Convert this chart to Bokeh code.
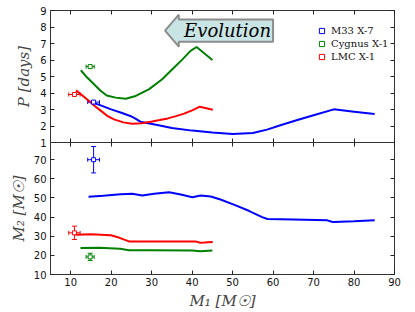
from bokeh.plotting import figure
from bokeh.layouts import column
from bokeh.models import Range1d, LinearAxis, FixedTicker, Legend, LegendItem, Whisker, ColumnDataSource, TeeHead
from bokeh.core.properties import value
from bokeh.embed import file_html
from bokeh.resources import INLINE

# ---------------- data ----------------
# Orbital period P [days] vs M1
m33_p_m1 = [14.2, 17.4, 20.0, 22.5, 24.7, 26.0, 27.2, 31.4, 35.0, 40.0, 45.0, 50.0, 55.0, 58.5, 62.0, 66.0, 70.0, 75.0, 80.0, 85.1]
m33_p = [3.52, 3.25, 3.01, 2.80, 2.61, 2.45, 2.26, 2.06, 1.88, 1.72, 1.60, 1.52, 1.57, 1.78, 2.06, 2.36, 2.65, 3.01, 2.87, 2.73]

cyg_p_m1 = [12.5, 14.0, 15.75, 17.3, 18.9, 21.1, 23.6, 26.05, 29.3, 32.6, 35.1, 37.6, 39.6, 41.1, 45.0]
cyg_p = [5.38, 4.95, 4.53, 4.15, 3.85, 3.72, 3.65, 3.82, 4.22, 4.83, 5.44, 6.04, 6.55, 6.79, 6.00]

lmc_p_m1 = [11.3, 12.9, 14.5, 16.0, 17.4, 19.0, 20.7, 23.0, 25.2, 27.5, 29.8, 32.0, 34.0, 36.0, 38.0, 40.0, 41.9, 43.5, 45.1]
lmc_p = [4.16, 3.85, 3.52, 3.20, 2.93, 2.62, 2.40, 2.22, 2.14, 2.17, 2.26, 2.36, 2.46, 2.60, 2.75, 2.95, 3.17, 3.08, 2.99]

# Companion mass M2 vs M1
m33_m2_m1 = [14.4, 18.0, 22.35, 25.2, 27.7, 30.6, 34.3, 37.2, 40.05, 42.1, 44.6, 47.0, 50.3, 54.0, 57.3, 58.6, 65.0, 73.4, 74.5, 75.0, 80.0, 85.1]
m33_m2 = [50.6, 51.2, 52.0, 52.2, 51.3, 52.2, 53.0, 51.8, 50.4, 51.3, 50.8, 49.2, 46.5, 43.3, 40.0, 39.0, 38.8, 38.3, 37.6, 37.4, 37.8, 38.3]

cyg_m2_m1 = [12.4, 17.0, 22.2, 24.4, 30.0, 40.0, 42.0, 45.0]
cyg_m2 = [23.9, 24.0, 23.5, 22.7, 22.7, 22.5, 22.2, 22.5]

lmc_m2_m1 = [11.2, 15.0, 19.9, 21.9, 24.4, 30.0, 35.0, 40.8, 42.0, 43.0, 45.1]
lmc_m2 = [30.8, 31.0, 30.5, 29.3, 27.3, 27.3, 27.3, 27.3, 26.6, 26.7, 27.0]

# Observed systems (with errors)
names = ["M33 X-7", "Cygnus X-1", "LMC X-1"]
colors = ["#0000ff", "#008000", "#ff0000"]
obs_m1 = [15.65, 14.8, 10.91]
obs_m1_err = [1.45, 1.0, 1.41]
obs_p = [3.45, 5.6, 3.91]
obs_m2 = [70.0, 19.2, 31.79]
obs_m2_err = [6.9, 1.9, 3.48]

x_ticks = [10, 20, 30, 40, 50, 60, 70, 80, 90]
p_ticks = [1, 2, 3, 4, 5, 6, 7, 8, 9]
m2_ticks = [10, 20, 30, 40, 50, 60, 70]

# ---------------- styling helpers ----------------
TICK_FONT = "DejaVu Sans"
LABEL_FONT = "DejaVu Serif"
OVERLAP = 7   # room under the top panel so that its lowest tick label is not clipped


def style_axis(ax, ticks, labels=True):
    ax.ticker = FixedTicker(ticks=ticks)
    ax.axis_line_color = None
    ax.major_tick_in = 4
    ax.major_tick_out = 0
    ax.minor_tick_in = 0
    ax.minor_tick_out = 0
    ax.major_tick_line_color = "#222222"
    ax.major_tick_line_width = 1
    ax.major_label_text_font = TICK_FONT
    ax.major_label_text_color = "#111111"
    if labels:
        ax.major_label_text_font_size = "10px"
        ax.major_label_standoff = 3
    else:
        ax.major_label_overrides = {t: "" for t in ticks}
        ax.major_label_text_font_size = "0px"
        ax.major_label_standoff = 0


def style_fig(p):
    p.grid.visible = False
    p.outline_line_color = "#333333"
    p.outline_line_width = 1
    p.background_fill_color = "white"
    p.frame_align = False


x_range = Range1d(5, 90)

# ---------------- top panel: period ----------------
p1 = figure(frame_width=344, frame_height=132, x_range=x_range, y_range=Range1d(1, 9),
            output_backend="svg", toolbar_location=None,
            min_border_left=50, min_border_right=21, min_border_top=10,
            min_border_bottom=OVERLAP)
style_fig(p1)
p1.border_fill_color = "white"
style_axis(p1.xaxis[0], x_ticks, labels=False)
style_axis(p1.yaxis[0], p_ticks)
p1.yaxis[0].major_label_standoff = 4
p1.yaxis[0].axis_label = "P [days]"
p1.yaxis[0].axis_label_text_font = LABEL_FONT
p1.yaxis[0].axis_label_text_font_style = "italic"
p1.yaxis[0].axis_label_text_font_size = "15px"
p1.yaxis[0].axis_label_standoff = 4
ax_r1 = LinearAxis()
style_axis(ax_r1, p_ticks, labels=False)
p1.add_layout(ax_r1, "right")
ax_t1 = LinearAxis()
style_axis(ax_t1, x_ticks, labels=False)
p1.add_layout(ax_t1, "above")

p1.line(m33_p_m1, m33_p, line_color=colors[0], line_width=2)
p1.line(cyg_p_m1, cyg_p, line_color=colors[1], line_width=2)
p1.line(lmc_p_m1, lmc_p, line_color=colors[2], line_width=2)

# "Evolution" arrow annotation (top-panel data coordinates)
arrow_tip_x, arrow_mid_x, arrow_end_x = 33.3, 36.7, 60.0
arrow_y = 7.78
arrow_head_half, arrow_body_half = 0.97, 0.68
p1.patch([arrow_tip_x, arrow_mid_x, arrow_mid_x, arrow_end_x, arrow_end_x, arrow_mid_x, arrow_mid_x],
         [arrow_y, arrow_y + arrow_head_half, arrow_y + arrow_body_half, arrow_y + arrow_body_half,
          arrow_y - arrow_body_half, arrow_y - arrow_body_half, arrow_y - arrow_head_half],
         fill_color="#c9e4e4", line_color="#8c8c8c", line_width=2)
p1.text(x=[(arrow_mid_x + arrow_end_x) / 2 + 0.4], y=[arrow_y], text=["Evolution"],
        text_font=value(LABEL_FONT), text_font_style="italic", text_font_size="18px",
        text_align="center", text_baseline="middle", text_color="black")

legend_items = []
for i in range(3):
    src = ColumnDataSource(dict(x=[obs_m1[i]], y=[obs_p[i]],
                                lo=[obs_m1[i] - obs_m1_err[i]], hi=[obs_m1[i] + obs_m1_err[i]]))
    p1.add_layout(Whisker(source=src, base="y", lower="lo", upper="hi", dimension="width",
                          line_color=colors[i], line_width=1,
                          lower_head=TeeHead(size=4, line_color=colors[i], line_width=1),
                          upper_head=TeeHead(size=4, line_color=colors[i], line_width=1)))
    r = p1.scatter("x", "y", source=src, marker="square", size=4, fill_color="white",
                   line_color=colors[i], line_width=1)
    legend_items.append(LegendItem(label=names[i], renderers=[r]))

legend = Legend(items=legend_items, location=(265, 79), margin=0, padding=0,
                border_line_color=None, background_fill_alpha=0,
                glyph_width=13, glyph_height=13, label_standoff=3, spacing=0, label_height=13,
                label_text_font=LABEL_FONT, label_text_font_size="10px", label_text_color="#111111")
p1.add_layout(legend)

# ---------------- bottom panel: companion mass ----------------
p2 = figure(frame_width=344, frame_height=132, x_range=x_range, y_range=Range1d(10, 79),
            output_backend="svg", toolbar_location=None,
            min_border_left=50, min_border_right=21, min_border_top=0, min_border_bottom=38)
style_fig(p2)
p2.border_fill_alpha = 0
p2.margin = (-OVERLAP, 0, 0, 0)
style_axis(p2.xaxis[0], x_ticks)
style_axis(p2.yaxis[0], m2_ticks)
p2.yaxis[0].major_label_standoff = 4
p2.xaxis[0].axis_label = "M\u2081 [M\u2609]"
p2.yaxis[0].axis_label = "M\u2082 [M\u2609]"
for ax in (p2.xaxis[0], p2.yaxis[0]):
    ax.axis_label_text_font = LABEL_FONT
    ax.axis_label_text_font_style = "italic"
    ax.axis_label_text_font_size = "15px"
    ax.axis_label_standoff = 3
ax_r2 = LinearAxis()
style_axis(ax_r2, m2_ticks, labels=False)
p2.add_layout(ax_r2, "right")
ax_t2 = LinearAxis()
style_axis(ax_t2, x_ticks, labels=False)
p2.add_layout(ax_t2, "above")

p2.line(m33_m2_m1, m33_m2, line_color=colors[0], line_width=2)
p2.line(cyg_m2_m1, cyg_m2, line_color=colors[1], line_width=2)
p2.line(lmc_m2_m1, lmc_m2, line_color=colors[2], line_width=2)

for i in range(3):
    src = ColumnDataSource(dict(x=[obs_m1[i]], y=[obs_m2[i]],
                                xlo=[obs_m1[i] - obs_m1_err[i]], xhi=[obs_m1[i] + obs_m1_err[i]],
                                ylo=[obs_m2[i] - obs_m2_err[i]], yhi=[obs_m2[i] + obs_m2_err[i]]))
    p2.add_layout(Whisker(source=src, base="y", lower="xlo", upper="xhi", dimension="width",
                          line_color=colors[i], line_width=1,
                          lower_head=TeeHead(size=4, line_color=colors[i], line_width=1),
                          upper_head=TeeHead(size=4, line_color=colors[i], line_width=1)))
    p2.add_layout(Whisker(source=src, base="x", lower="ylo", upper="yhi", dimension="height",
                          line_color=colors[i], line_width=1,
                          lower_head=TeeHead(size=5, line_color=colors[i], line_width=1),
                          upper_head=TeeHead(size=5, line_color=colors[i], line_width=1)))
    p2.scatter("x", "y", source=src, marker="square", size=4, fill_color="white",
               line_color=colors[i], line_width=1)

layout = column(p1, p2, spacing=0)
open("out.html", "w").write(file_html(layout, INLINE))
